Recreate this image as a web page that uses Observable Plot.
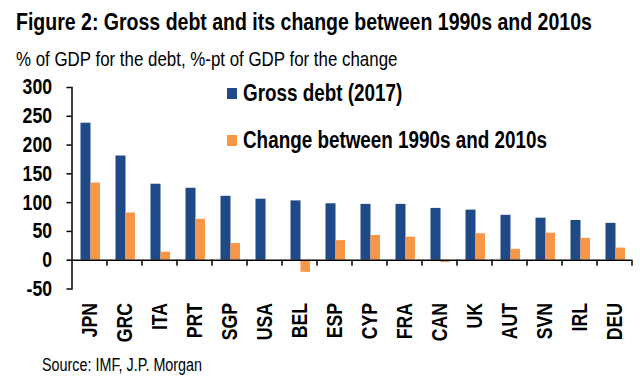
<!DOCTYPE html>
<html>
<head>
<meta charset="utf-8">
<script src="https://cdn.jsdelivr.net/npm/d3@7"></script>
<script src="https://cdn.jsdelivr.net/npm/@observablehq/plot@0.6"></script>
<style>
  html, body { margin: 0; padding: 0; background: #fff; }
  #wrap { position: relative; width: 640px; height: 388px; overflow: hidden; background: #fff; color: #000; }
  .abs { position: absolute; white-space: nowrap; line-height: 1; }
  .sq { position: absolute; width: 10px; height: 11px; }
  .inner { display: inline-block; transform-origin: 0 50%; }
</style>
</head>
<body>
<div id="wrap"></div>
<script>
// ---- data ----
const countries = ["JPN","GRC","ITA","PRT","SGP","USA","BEL","ESP","CYP","FRA","CAN","UK","AUT","SVN","IRL","DEU"];
const grossDebt = [238,181,132,125,111,106,103,98,97,97,90,87,78,73,69,64];
const change    = [134,82,14,71,29,0,-21,34,43,40,-4,46,19,47,38,21];
const yTicks = [-50,0,50,100,150,200,250,300];
const seriesNames = ["Gross debt (2017)", "Change between 1990s and 2010s"];
const titleText = "Figure 2: Gross debt and its change between 1990s and 2010s";
const subtitleText = "% of GDP for the debt, %-pt of GDP for the change";
const sourceText = "Source: IMF, J.P. Morgan";
const colors = ["#1F4A87", "#F79646"];

// ---- font detection ----
function hasFont(name) {
  const c = document.createElement("canvas").getContext("2d");
  const s = "mmmmmmmmmmlliWWabc";
  c.font = "40px monospace"; const a = c.measureText(s).width;
  c.font = `40px "${name}", monospace`; const b = c.measureText(s).width;
  return Math.abs(a - b) > 0.5;
}
const NARROW = hasFont("Liberation Sans Narrow");
const FAMILY = NARROW ? '"Liberation Sans Narrow", "Arial Narrow", sans-serif' : '"Liberation Sans", Arial, sans-serif';
const SQ = NARROW ? 1 : 0.82;

const wrap = document.getElementById("wrap");
wrap.style.fontFamily = FAMILY;

function addText(txt, left, top, size, weight) {
  const d = document.createElement("div");
  d.className = "abs";
  d.style.left = left + "px"; d.style.top = top + "px";
  d.style.fontSize = size + "px"; d.style.fontWeight = weight;
  const s = document.createElement("span");
  s.className = "inner"; s.textContent = txt;
  if (SQ !== 1) s.style.transform = `scaleX(${SQ})`;
  d.appendChild(s);
  wrap.appendChild(d);
  return d;
}

const table = countries.map((c, i) => ({country: c, debt: grossDebt[i], change: change[i]}));

// layout
const W = 640, H = 282, MT = 17, MB = 63.5, ML = 71.5, MR = 8.5;
const yDomain = [-50, 300];
const tickPx = 6, tickW = 1.5;
// convert a tick length in pixels to y units so the ticks hang below the zero line
const tickUnits = tickPx * (yDomain[1] - yDomain[0]) / (H - MT - MB);
const bandPx = (W - ML - MR) / countries.length;

const chart = Plot.plot({
  width: W,
  height: H,
  marginTop: MT,
  marginBottom: MB,
  marginLeft: ML,
  marginRight: MR,
  style: {fontFamily: FAMILY, fontSize: "21.5px", fontWeight: "bold", color: "#000", background: "transparent"},
  x: {type: "band", domain: countries, padding: 0, align: 0.5, label: null},
  y: {domain: yDomain, label: null},
  marks: [
    Plot.barY(table, {x: "country", y: "debt", fill: colors[0], insetLeft: 8.5, insetRight: 16.5}),
    Plot.barY(table, {x: "country", y: "change", fill: colors[1], insetLeft: 18.5, insetRight: 7}),
    Plot.ruleY([0], {stroke: "#000", strokeWidth: 1.5}),
    // x tick marks at the right edge of each band, hanging below the zero line
    Plot.barY(countries, {x: d => d, y1: () => 0, y2: () => -tickUnits, fill: "#000",
      insetLeft: bandPx - tickW, insetRight: 0, dx: tickW / 2}),
    Plot.frame({anchor: "left", stroke: "#000", strokeWidth: 1.5}),
    Plot.axisY({ticks: yTicks, tickSize: 5, tickPadding: 15, strokeWidth: 1.5, tickFormat: d => String(d), label: null}),
    Plot.axisX({tickSize: 0, tickPadding: 14, tickRotate: -90, label: null})
  ]
});
chart.style.position = "absolute";
chart.style.left = "0px";
chart.style.top = "70px";
wrap.appendChild(chart);

// text squeeze fallback for SVG text
if (SQ !== 1) {
  chart.querySelectorAll("text").forEach(t => {
    const L = t.getComputedTextLength();
    if (L > 0) { t.setAttribute("textLength", L * SQ); t.setAttribute("lengthAdjust", "spacingAndGlyphs"); }
  });
}

// title, subtitle
addText(titleText, 16, 10, 23.8, "bold");
addText(subtitleText, 16, 48.6, 20.6, "normal");

// legend
const legendTops = [88, 135];
seriesNames.forEach((name, i) => {
  const sq = document.createElement("div");
  sq.className = "sq"; sq.style.left = "227px"; sq.style.top = legendTops[i] + "px";
  sq.style.background = colors[i];
  wrap.appendChild(sq);
  addText(name, 243, legendTops[i] - 6.5, 23, "bold");
});

// source
addText(sourceText, 42, 357.2, 17.5, "normal");
</script>
</body>
</html>
